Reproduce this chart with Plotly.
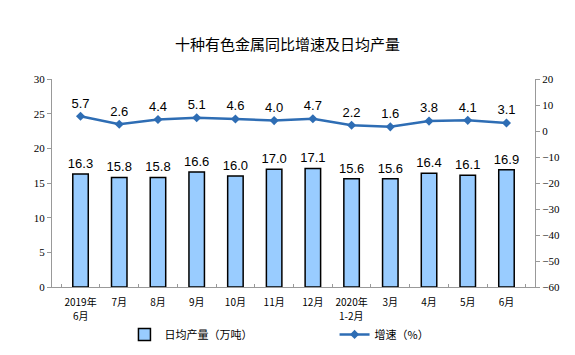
import plotly.graph_objects as go

categories = ["2019年<br>6月", "7月", "8月", "9月", "10月", "11月", "12月",
              "2020年<br>1-2月", "3月", "4月", "5月", "6月"]
output = [16.3, 15.8, 15.8, 16.6, 16.0, 17.0, 17.1, 15.6, 15.6, 16.4, 16.1, 16.9]
growth = [5.7, 2.6, 4.4, 5.1, 4.6, 4.0, 4.7, 2.2, 1.6, 3.8, 4.1, 3.1]

first_lines = [c.split("<br>")[0] for c in categories]
second_lines = [(c, c.split("<br>")[1]) for c in categories if "<br>" in c]

fig = go.Figure()
fig.add_trace(go.Bar(
    x=categories, y=output, name="日均产量（万吨）",
    marker=dict(color="#99CCFF", line=dict(color="#000000", width=1.5)),
    width=0.4,
    text=[f"{v:.1f}" for v in output], textposition="outside",
    constraintext="none",
    textfont=dict(family="Liberation Sans, Arial", size=13, color="#000"),
    cliponaxis=False, legend="legend",
))
fig.add_trace(go.Scatter(
    x=categories, y=growth, name="增速（%）", yaxis="y2",
    mode="lines+markers+text",
    line=dict(color="#2E6DB4", width=2.5),
    marker=dict(symbol="diamond", size=7, color="#2E6DB4"),
    text=[f"{v:.1f}" for v in growth], textposition="top center",
    textfont=dict(family="Liberation Sans, Arial", size=13, color="#000"),
    cliponaxis=False, legend="legend2",
))

for cat, txt in second_lines:
    fig.add_annotation(x=cat, xref="x", y=0, yref="paper", yanchor="top",
                       yshift=-19, text=txt, showarrow=False,
                       font=dict(family="Noto Sans CJK SC", size=10, color="#000"))

legend_common = dict(orientation="h", yref="container", yanchor="middle", y=0.058,
                     xanchor="left",
                     font=dict(family="Noto Sans CJK SC", size=11, color="#000"),
                     bgcolor="rgba(0,0,0,0)")

fig.update_layout(
    width=575, height=355,
    margin=dict(l=52, r=40, t=79, b=68),
    paper_bgcolor="white", plot_bgcolor="white",
    title=dict(text="十种有色金属同比增速及日均产量", x=0.5, xanchor="center",
               y=0.875, yanchor="middle",
               font=dict(family="Noto Sans CJK SC", size=15, color="#000")),
    font=dict(family="Liberation Serif, Noto Sans CJK SC", size=11, color="#000"),
    xaxis=dict(showline=True, linecolor="#999", ticks="inside", tickson="boundaries",
               tickcolor="#999", ticklen=3, showgrid=False, tickangle=0,
               automargin=False, tickmode="array", tickvals=categories,
               ticktext=first_lines, ticklabelstandoff=6,
               tickfont=dict(family="Noto Sans CJK SC", size=10)),
    yaxis=dict(range=[0, 30], dtick=5, showline=True, linecolor="#999",
               ticks="outside", tickcolor="#999", ticklen=4, showgrid=False,
               zeroline=False, tickfont=dict(family="Liberation Serif", size=11)),
    yaxis2=dict(range=[-60, 20], dtick=10, overlaying="y", side="right",
                showline=True, linecolor="#999", ticks="outside", tickcolor="#999",
                ticklen=4, showgrid=False, zeroline=False,
                tickfont=dict(family="Liberation Serif", size=11)),
    showlegend=True,
    legend=dict(x=0.15, **legend_common),
    legend2=dict(x=0.585, **legend_common),
    bargap=0.6,
)

fig.write_html("out.html")
